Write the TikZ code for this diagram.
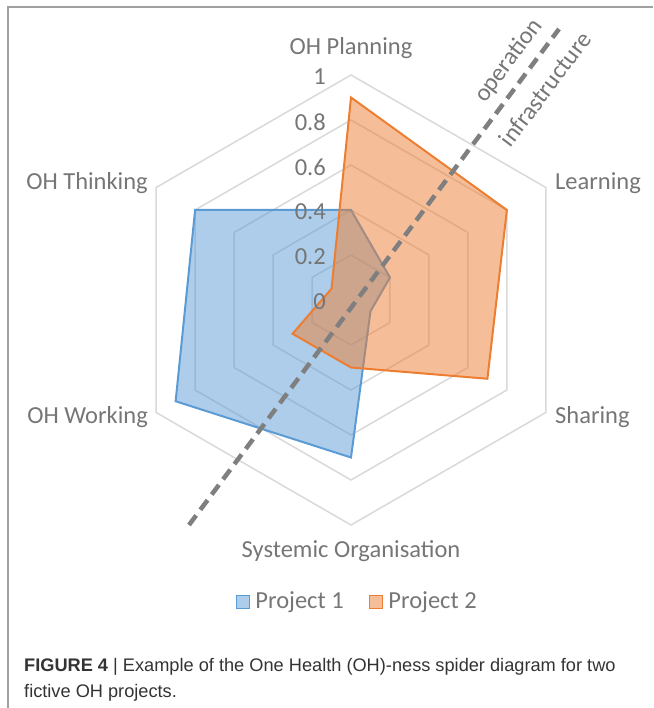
\documentclass[tikz,border=0pt]{standalone}
\usepackage{fontspec}
\setmainfont{Carlito}
\newfontfamily\capfont{Liberation Sans}
\usetikzlibrary{positioning}
\definecolor{gridgray}{RGB}{217,217,217}
\definecolor{txtgray}{RGB}{118,118,118}
\definecolor{linegray}{RGB}{127,127,127}
\definecolor{projblue}{RGB}{91,155,213}
\definecolor{projorange}{RGB}{237,125,49}
\definecolor{framegray}{RGB}{160,160,160}
\definecolor{capgray}{RGB}{51,51,51}

\begin{document}
\begin{tikzpicture}[x=1pt, y=1pt]
\tikzstyle{ring}=[draw=gridgray, line width=1.5pt, line join=miter]
\tikzstyle{axislabel}=[text=txtgray, font=\fontsize{24.5}{28}\selectfont, inner sep=0pt]
\tikzstyle{ticklabel}=[text=txtgray, font=\fontsize{24.5}{28}\selectfont, inner sep=0pt, anchor=east]
\tikzstyle{project}=[line width=2pt, fill opacity=0.5, line join=miter]
\tikzstyle{divider}=[draw=linegray, line width=4.5pt, dash pattern=on 12pt off 7pt]
\tikzstyle{legbox}=[draw, line width=1.5pt, minimum size=13pt, inner sep=0pt]
\tikzstyle{caption}=[text=capgray, font=\capfont\fontsize{18.2}{26}\selectfont, inner sep=0pt, anchor=base west]
\useasboundingbox (-351,-408) rectangle (302,300);

% frame
\draw[framegray, line width=1.2pt] (302,293) -- (-343,293) -- (-343,-408);

% grid rings 0.2 .. 1
\foreach \r in {45,90,...,225}
  \draw[ring] (90:\r) -- (30:\r) -- (-30:\r) -- (-90:\r) -- (-150:\r) -- (150:\r) -- cycle;

% Project 1 and Project 2
\draw[project, draw=projblue, fill=projblue] (90:90) -- (30:45) -- (-30:22.5) -- (-90:157.5) -- (-150:202.5) -- (150:180) -- cycle;
\draw[project, draw=projorange, fill=projorange] (90:202.5) -- (30:180) -- (-30:157.5) -- (-90:67.5) -- (-150:67.5) -- (150:22.5) -- cycle;

% scale
\foreach \v/\t in {0/0, 1/0.2, 2/0.4, 3/0.6, 4/0.8, 5/1}
  \node[ticklabel] (tick\v) at (-25, 45*\v - 2) {\t};

% axes
\node[axislabel] (lPlan) at (0,252) {OH Planning};
\node[axislabel, anchor=west] (lLearn) at (204,117) {Learning};
\node[axislabel, anchor=west] (lShare) at (204,-117) {Sharing};
\node[axislabel] (lSys) at (0,-251) {Systemic Organisation};
\node[axislabel, anchor=east] (lWork) at (-203,-117) {OH Working};
\node[axislabel, anchor=east] (lThink) at (-203,117) {OH Thinking};

% operation / infrastructure split
\coordinate (dLow) at (-162,-225);
\coordinate (dHigh) at (208,271);
\draw[divider] (dLow) -- (dHigh);
\node[axislabel, rotate=53] (lOp) at (158,239) {operation};
\node[axislabel, rotate=53] (lInfra) at (194,211) {infrastructure};

% legend
\node[legbox, draw=projblue, fill=projblue!50] (key1) at (-108,-302) {};
\node[axislabel, right=5pt of key1] (leg1) {Project 1};
\node[legbox, draw=projorange, fill=projorange!50] (key2) at (25,-302) {};
\node[axislabel, right=5pt of key2] (leg2) {Project 2};

% caption
\node[caption] (cap1) at (-327,-371) {\textbf{FIGURE 4} | Example of the One Health (OH)-ness spider diagram for two};
\node[caption] (cap2) at (-327,-397) {fictive OH projects.};

\end{tikzpicture}
\end{document}
